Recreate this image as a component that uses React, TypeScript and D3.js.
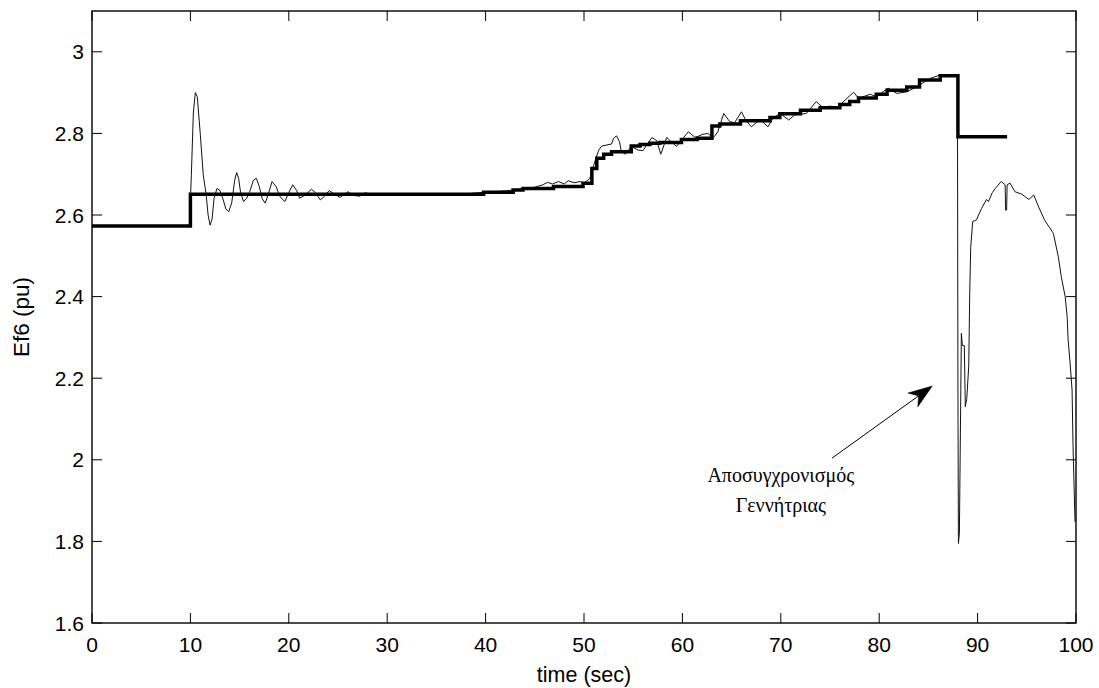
import React from 'react';
import * as d3 from 'd3';

// ---------- data ----------
const xTickValues = [0, 10, 20, 30, 40, 50, 60, 70, 80, 90, 100];
const yTickValues = [1.6, 1.8, 2, 2.2, 2.4, 2.6, 2.8, 3];
const yTickLabels = ['1.6', '1.8', '2', '2.2', '2.4', '2.6', '2.8', '3'];

// reference (thick, stepped) signal
const refTime = [0, 10, 39.8, 42.8, 43.8, 46.9, 49.9, 50.8, 51.3, 52.0, 52.8, 54.8, 55.7, 56.7, 57.7, 59.9, 61.5, 63.0, 63.8, 65.9, 68.9, 69.9, 72.0, 74.0, 76.0, 77.0, 77.9, 79.7, 80.8, 82.8, 84.1, 86.2, 88.0, 93.0];
const refValue = [2.573, 2.651, 2.656, 2.661, 2.665, 2.670, 2.678, 2.714, 2.739, 2.749, 2.755, 2.769, 2.773, 2.776, 2.778, 2.785, 2.788, 2.818, 2.823, 2.831, 2.839, 2.848, 2.857, 2.863, 2.871, 2.878, 2.887, 2.896, 2.906, 2.914, 2.931, 2.941, 2.792, 2.792];

// actual response (thin) signal
const respTime = [0, 9.9, 10.1, 10.3, 10.5, 10.7, 11.0, 11.3, 11.6, 11.8, 12.0, 12.2, 12.4, 12.7, 13.0, 13.3, 13.6, 13.9, 14.2, 14.5, 14.7, 14.9, 15.1, 15.4, 15.7, 16.0, 16.4, 16.7, 17.0, 17.3, 17.6, 17.9, 18.3, 18.7, 19.1, 19.6, 20.0, 20.4, 20.8, 21.1, 21.6, 22.3, 22.7, 23.2, 23.6, 24.1, 24.6, 25.2, 25.6, 26.0, 26.6, 27.2, 27.8, 28.4, 29.0, 30, 31, 33, 35, 38, 40, 42, 43, 44, 45, 45.8, 46.3, 46.8, 47.4, 48.0, 48.4, 49.0, 49.6, 50.0, 50.6, 51.1, 51.5, 51.8, 52.8, 53.0, 53.3, 53.6, 53.8, 54.2, 54.8, 55.5, 56.0, 56.9, 57.4, 57.8, 58.4, 59.4, 60.6, 61.3, 62.1, 62.6, 63.1, 63.6, 64.2, 64.8, 65.3, 66.0, 66.4, 67.0, 67.9, 68.7, 69.2, 69.9, 70.8, 71.4, 72.6, 73.6, 74.3, 75.0, 75.7, 77.4, 77.9, 79.1, 79.7, 80.9, 81.8, 82.8, 83.8, 85.2, 86.2, 87.0, 87.95, 88.0, 88.05, 88.15, 88.35, 88.45, 88.65, 88.75, 88.9, 89.1, 89.2, 89.3, 89.5, 89.9, 90.1, 90.4, 90.9, 91.1, 91.5, 91.8, 92.4, 92.8, 92.85, 92.95, 93.0, 93.3, 93.8, 94.5, 95.2, 95.7, 96.2, 96.8, 97.7, 98.2, 98.5, 98.9, 99.1, 99.2, 99.4, 99.6, 99.7, 99.9];
const respValue = [2.573, 2.573, 2.70, 2.85, 2.90, 2.89, 2.80, 2.70, 2.65, 2.60, 2.575, 2.59, 2.64, 2.665, 2.66, 2.64, 2.615, 2.608, 2.63, 2.685, 2.704, 2.69, 2.655, 2.633, 2.64, 2.655, 2.685, 2.69, 2.67, 2.64, 2.629, 2.65, 2.682, 2.67, 2.645, 2.633, 2.655, 2.674, 2.66, 2.641, 2.648, 2.663, 2.655, 2.637, 2.645, 2.66, 2.652, 2.643, 2.65, 2.657, 2.648, 2.646, 2.655, 2.649, 2.648, 2.653, 2.650, 2.652, 2.650, 2.652, 2.656, 2.659, 2.662, 2.665, 2.668, 2.674, 2.680, 2.676, 2.682, 2.676, 2.684, 2.679, 2.682, 2.678, 2.69, 2.731, 2.759, 2.769, 2.774, 2.788, 2.794, 2.78, 2.755, 2.749, 2.768, 2.759, 2.758, 2.79, 2.782, 2.749, 2.79, 2.768, 2.804, 2.79, 2.798, 2.80, 2.788, 2.804, 2.849, 2.829, 2.826, 2.853, 2.834, 2.816, 2.834, 2.816, 2.837, 2.849, 2.833, 2.845, 2.849, 2.878, 2.863, 2.867, 2.863, 2.901, 2.886, 2.896, 2.89, 2.911, 2.898, 2.902, 2.914, 2.935, 2.943, 2.942, 2.94, 2.20, 1.795, 1.82, 2.31, 2.28, 2.28, 2.13, 2.15, 2.23, 2.41, 2.52, 2.584, 2.588, 2.60, 2.616, 2.638, 2.633, 2.655, 2.665, 2.682, 2.674, 2.612, 2.612, 2.674, 2.678, 2.657, 2.651, 2.638, 2.649, 2.62, 2.588, 2.555, 2.498, 2.449, 2.40, 2.351, 2.294, 2.237, 2.171, 2.032, 1.848];

// annotation (data coordinates)
const annotationLines = ['Αποσυγχρονισμός', 'Γεννήτριας'];
const annotationAnchor = [70.0, 1.946];
const arrowTail = [75.2, 2.004];
const arrowTip = [85.4, 2.181];

const xLabel = 'time (sec)';
const yLabel = 'Ef6 (pu)';

// ---------- layout ----------
const W = 1099;
const H = 688;
const left = 92;
const right = 1076;
const top = 11;
const bottom = 623;
const tickLen = 10;
const sans = '"Liberation Sans", Arial, Helvetica, sans-serif';
const serif = '"Liberation Serif", "Times New Roman", serif';

export default function App() {
  const x = d3.scaleLinear().domain([0, 100]).range([left, right]);
  const y = d3.scaleLinear().domain([1.6, 3.1]).range([bottom, top]);

  const refData = refTime.map((t, i) => [t, refValue[i]] as [number, number]);
  const respData = respTime.map((t, i) => [t, respValue[i]] as [number, number]);

  const refLine = d3
    .line<[number, number]>()
    .x((d) => x(d[0]))
    .y((d) => y(d[1]))
    .curve(d3.curveStepAfter);
  const respLine = d3
    .line<[number, number]>()
    .x((d) => x(d[0]))
    .y((d) => y(d[1]));

  // arrow geometry
  const tx = x(arrowTail[0]);
  const ty = y(arrowTail[1]);
  const hx = x(arrowTip[0]);
  const hy = y(arrowTip[1]);
  const dx = hx - tx;
  const dy = hy - ty;
  const len = Math.hypot(dx, dy);
  const ux = dx / len;
  const uy = dy / len;
  const px = -uy;
  const py = ux;
  const headLen = 24;
  const headHalf = 8.5;
  const back = 17;
  const wing1 = [hx - ux * headLen + px * headHalf, hy - uy * headLen + py * headHalf];
  const wing2 = [hx - ux * headLen - px * headHalf, hy - uy * headLen - py * headHalf];
  const notch = [hx - ux * back, hy - uy * back];
  const headPath = `M${hx},${hy}L${wing1[0]},${wing1[1]}L${notch[0]},${notch[1]}L${wing2[0]},${wing2[1]}Z`;

  return (
    <svg
      width={W}
      height={H}
      style={{ position: 'absolute', left: 0, top: 0, background: '#fff' }}
    >
      <rect x={0} y={0} width={W} height={H} fill="#fff" />
      <defs>
        <clipPath id="plotClip">
          <rect x={left} y={top} width={right - left} height={bottom - top} />
        </clipPath>
      </defs>

      {/* data */}
      <g clipPath="url(#plotClip)">
        <path d={respLine(respData) || ''} fill="none" stroke="#111" strokeWidth={1} strokeLinejoin="round" />
        <path d={refLine(refData) || ''} fill="none" stroke="#000" strokeWidth={3.5} strokeLinejoin="miter" />
      </g>

      {/* ticks */}
      <g stroke="#000" strokeWidth={1}>
        {xTickValues.map((v) => (
          <g key={'xt' + v}>
            <line x1={x(v)} x2={x(v)} y1={bottom} y2={bottom - tickLen} />
            <line x1={x(v)} x2={x(v)} y1={top} y2={top + tickLen} />
          </g>
        ))}
        {yTickValues.map((v) => (
          <g key={'yt' + v}>
            <line x1={left} x2={left + tickLen} y1={y(v)} y2={y(v)} />
            <line x1={right} x2={right - tickLen} y1={y(v)} y2={y(v)} />
          </g>
        ))}
      </g>

      {/* box */}
      <rect x={left} y={top} width={right - left} height={bottom - top} fill="none" stroke="#000" strokeWidth={1.4} />

      {/* tick labels */}
      <g fontFamily={sans} fontSize={21} fill="#000">
        {xTickValues.map((v) => (
          <text key={'xl' + v} x={x(v)} y={bottom + 29} textAnchor="middle">
            {String(v)}
          </text>
        ))}
        {yTickValues.map((v, i) => (
          <text key={'yl' + v} x={left - 8} y={y(v) + 7.5} textAnchor="end">
            {yTickLabels[i]}
          </text>
        ))}
      </g>

      {/* axis labels */}
      <text x={(left + right) / 2} y={682} textAnchor="middle" fontFamily={sans} fontSize={21.5}>
        {xLabel}
      </text>
      <text
        transform={`translate(29,${(top + bottom) / 2}) rotate(-90)`}
        textAnchor="middle"
        fontFamily={sans}
        fontSize={22.5}
      >
        {yLabel}
      </text>

      {/* annotation */}
      <g fontFamily={serif} fontSize={20} fill="#000">
        {annotationLines.map((s, i) => (
          <text key={s} x={x(annotationAnchor[0])} y={y(annotationAnchor[1]) + i * 30} textAnchor="middle">
            {s}
          </text>
        ))}
      </g>
      <line x1={tx} y1={ty} x2={notch[0]} y2={notch[1]} stroke="#000" strokeWidth={1} />
      <path d={headPath} fill="#000" stroke="#000" strokeWidth={0.5} />
    </svg>
  );
}
